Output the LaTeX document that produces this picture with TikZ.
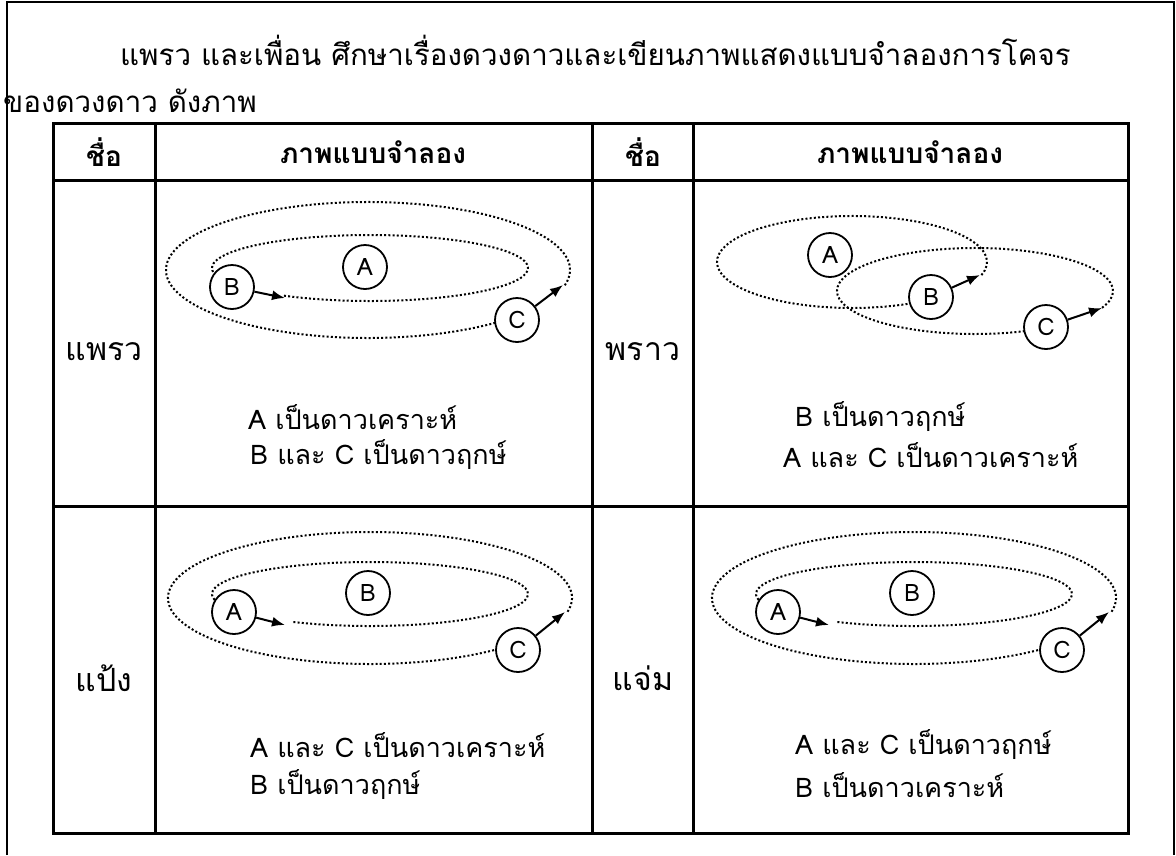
\documentclass[tikz,border=0pt]{standalone}
\usepackage{fontspec}
\setmainfont{Loma}[Script=Thai]
\usetikzlibrary{arrows.meta}
\begin{document}
\begin{tikzpicture}[x=1pt,y=-1pt,
  frameline/.style={line width=1.6pt},
  gridline/.style={line width=3pt},
  orbit/.style={line width=2pt,dash pattern=on 2pt off 2.2pt},
  starbody/.style={circle,draw,line width=1.8pt,fill=white,minimum size=44pt,inner sep=0pt,font=\fontsize{24}{28}\selectfont},
  arr/.style={line width=2pt,-{Latex[length=13pt,width=10pt]}},
  ttl/.style={anchor=west,inner sep=0pt,font=\fontsize{29.5}{34}\selectfont},
  hdr/.style={inner sep=0pt,font=\bfseries\fontsize{28}{32}\selectfont},
  lbl/.style={inner sep=0pt,font=\fontsize{32}{36}\selectfont},
  notetext/.style={anchor=west,inner sep=0pt,font=\fontsize{27}{31}\selectfont}]
\useasboundingbox (0,0) rectangle (1176,855);
% outer frame
\draw[frameline] (7,855) -- (7,2) -- (1174,2) -- (1174,855);
% title
\node[ttl] (t1) at (120,50) {แพรว และเพื่อน ศึกษาเรื่องดวงดาวและเขียนภาพแสดงแบบจำลองการโคจร};
\node[ttl] (t2) at (3,101) {ของดวงดาว ดังภาพ};
% table
\draw[gridline] (53,123) rectangle (1128,833);
\draw[gridline] (53,180) -- (1128,180);
\draw[gridline] (53,506) -- (1128,506);
\foreach \xx in {155,592,693} \draw[gridline] (\xx,123) -- (\xx,833);
\node[hdr] (h1) at (104,152) {ชื่อ};
\node[hdr] (h2) at (373,152) {ภาพแบบจำลอง};
\node[hdr] (h3) at (643,152) {ชื่อ};
\node[hdr] (h4) at (910,152) {ภาพแบบจำลอง};
\node[lbl] (n1) at (104,352) {แพรว};
\node[lbl] (n2) at (643,352) {พราว};
\node[lbl] (n3) at (104,678) {แป้ง};
\node[lbl] (n4) at (643,678) {แจ่ม};
% cell 1
\draw[orbit] ([shift={(368,270)}]-13:202pt and 68pt) arc[start angle=-13,end angle=315,x radius=202pt,y radius=68pt];
\draw[orbit] ([shift={(370,268)}]237:158pt and 33pt) arc[start angle=237,end angle=573,x radius=158pt,y radius=33pt];
\node[starbody] (a1) at (365,267) {A};
\node[starbody] (b1) at (232,287) {B};
\node[starbody] (c1) at (517,320) {C};
\coordinate (tb1) at (285,298);
\coordinate (tc1) at (563,285);
\draw[arr] (b1) -- (tb1);
\draw[arr] (c1) -- (tc1);
\node[notetext] (p1) at (248,417) {A เป็นดาวเคราะห์};
\node[notetext] (q1) at (250,455) {B และ C เป็นดาวฤกษ์};
% cell 2
\draw[orbit] ([shift={(852,262)}]-16.5:135pt and 46pt) arc[start angle=-16.5,end angle=308,x radius=135pt,y radius=46pt];
\draw[orbit] ([shift={(975,291)}]-23:138pt and 43pt) arc[start angle=-23,end angle=301.6,x radius=138pt,y radius=43pt];
\node[starbody] (a2) at (830,255) {A};
\node[starbody] (b2) at (931,297) {B};
\node[starbody] (c2) at (1046,327) {C};
\coordinate (tb2) at (980,275);
\coordinate (tc2) at (1102,308);
\draw[arr] (b2) -- (tb2);
\draw[arr] (c2) -- (tc2);
\node[notetext] (p2) at (795,417) {B เป็นดาวฤกษ์};
\node[notetext] (q2) at (783,455) {A และ C เป็นดาวเคราะห์};
% cell 3
\draw[orbit] ([shift={(370,598)}]-12:202pt and 66pt) arc[start angle=-12,end angle=313,x radius=202pt,y radius=66pt];
\draw[orbit] ([shift={(370,594)}]241:158pt and 32pt) arc[start angle=241,end angle=573,x radius=158pt,y radius=32pt];
\node[starbody] (b3) at (368,593) {B};
\node[starbody] (a3) at (234,612) {A};
\node[starbody] (c3) at (518,650) {C};
\coordinate (ta3) at (285,625);
\coordinate (tc3) at (565,612);
\draw[arr] (a3) -- (ta3);
\draw[arr] (c3) -- (tc3);
\node[notetext] (p3) at (250,745) {A และ C เป็นดาวเคราะห์};
\node[notetext] (q3) at (250,785) {B เป็นดาวฤกษ์};
% cell 4
\draw[orbit] ([shift={(914,598)}]-12:202pt and 66pt) arc[start angle=-12,end angle=313,x radius=202pt,y radius=66pt];
\draw[orbit] ([shift={(914,594)}]241:158pt and 32pt) arc[start angle=241,end angle=573,x radius=158pt,y radius=32pt];
\node[starbody] (b4) at (912,593) {B};
\node[starbody] (a4) at (778,612) {A};
\node[starbody] (c4) at (1062,650) {C};
\coordinate (ta4) at (829,625);
\coordinate (tc4) at (1109,612);
\draw[arr] (a4) -- (ta4);
\draw[arr] (c4) -- (tc4);
\node[notetext] (p4) at (795,745) {A และ C เป็นดาวฤกษ์};
\node[notetext] (q4) at (795,785) {B เป็นดาวเคราะห์};
\end{tikzpicture}
\end{document}
